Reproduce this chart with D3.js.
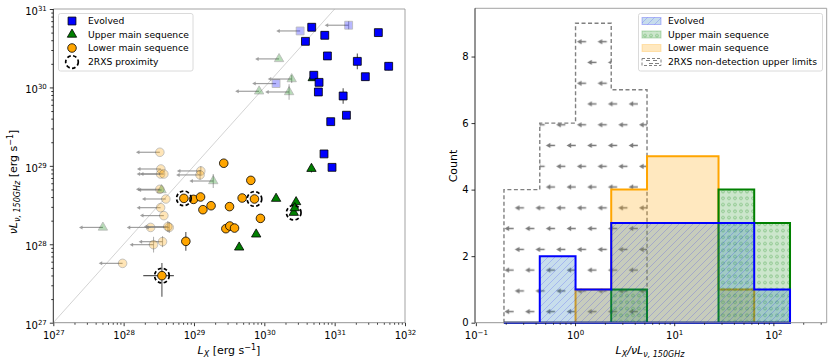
<!DOCTYPE html>
<html>
<head>
<meta charset="utf-8">
<script src="https://cdn.jsdelivr.net/npm/d3@7"></script>
<style>
  body { margin: 0; background: #fff; }
  text { font-family: "DejaVu Sans", sans-serif; fill: #000; }
</style>
</head>
<body>
<svg id="chart" width="831" height="362"></svg>
<script>
// ---- detections (L_X, nu L_nu in erg/s) ----
const evolvedLx = [4.72e30, 3.84e30, 7.23e30, 7.89e30, 5.05e30, 6.0e30, 5.87e30, 4.18e31,
                   2.10e31, 5.86e31, 2.73e31, 1.32e31, 1.47e31, 8.79e30, 7.06e30, 9.18e30];
const evolvedLnu = [5.85e30, 3.87e30, 4.62e30, 2.52e30, 1.43e30, 1.16e30, 8.75e29, 5.0e30,
                    2.15e30, 1.86e30, 1.37e30, 7.78e29, 4.42e29, 3.66e29, 1.42e29, 9.57e28];
const evolvedErr = [0, 0, 0, 0, 0, 0, 0, 0, 0.10, 0.05, 0, 0.10, 0, 0, 0, 0];

const upperLx = [4.88e30, 4.68e30, 1.47e30, 2.83e30, 2.62e30, 7.66e29, 4.39e29, 2.71e30];
const upperLnu = [1.32e30, 9.2e28, 3.82e28, 3.46e28, 2.53e28, 1.34e28, 9.14e27, 2.90e28];
const upperErr = [0.03, 0.05, 0, 0, 0, 0, 0, 0];

const lowerLx = [2.65e29, 6.43e29, 7.18e28, 9.84e28, 1.24e29, 1.34e29, 1.75e29, 4.84e29,
                 7.24e29, 3.2e29, 8.81e29, 2.84e29, 3.23e29, 3.77e29, 7.66e28, 3.5e28];
const lowerLnu = [1.08e29, 6.53e28, 3.85e28, 3.74e28, 4.01e28, 2.76e28, 3.10e28, 3.89e28,
                  3.78e28, 3.02e28, 2.14e28, 1.58e28, 1.71e28, 1.61e28, 1.09e28, 3.98e27];
const lowerErrLo = [0.03, 0, 0, 0, 0, 0, 0, 0, 0, 0, 0, 0, 0, 0, 0.12, 0.27];
const lowerErrHi = [0.03, 0, 0, 0, 0, 0, 0, 0, 0, 0, 0, 0, 0, 0, 0.12, 0.16];
const lowerXErrLo = [0, 0, 0, 0, 0, 0, 0, 0, 0, 0, 0, 0, 0, 0, 0, 0.265];
const lowerXErrHi = [0, 0, 0, 0, 0, 0, 0, 0, 0, 0, 0, 0, 0, 0, 0, 0.17];

// indices of sources close to a 2RXS source
const upperNear = [4];
const lowerNear = [2, 8, 15];

// ---- 2RXS non-detections (L_X is an upper limit) ----
const ulEvolvedLx = [3.23e30, 1.58e31, 1.47e30];
const ulEvolvedLnu = [5.25e30, 6.21e30, 1.12e30];
const ulEvolvedErr = [0, 0.05, 0];
const ulUpperLx = [1.62e30, 2.45e30, 8.43e29, 2.25e30, 1.88e29, 3.46e28, 5.07e27];
const ulUpperLnu = [2.31e30, 1.28e30, 8.93e29, 8.75e29, 6.41e28, 4.92e28, 1.64e28];
const ulUpperErr = [0, 0.05, 0, 0.10, 0.09, 0, 0];
const ulLowerLx = [3.27e28, 3.38e28, 3.35e28, 3.73e28, 1.25e29, 1.22e29, 3.27e28, 3.98e28,
                   3.35e28, 3.73e28, 2.42e28, 4.45e28, 4.25e28, 3.57e28, 2.66e28, 9.66e27];
const ulLowerLnu = [1.49e29, 9.12e28, 7.87e28, 7.87e28, 8.61e28, 7.66e28, 5.02e28, 3.78e28,
                    2.93e28, 2.32e28, 1.64e28, 1.64e28, 1.68e28, 1.08e28, 9.89e27, 5.71e27];
const ulLowerErr = [0, 0, 0, 0, 0.06, 0.06, 0, 0, 0, 0, 0, 0.07, 0.07, 0.07, 0.10, 0];

// ---- histogram bins of L_X / nu L_nu ----
const binEdges = [0.192, 0.441, 1.012, 2.317, 5.32, 12.19, 27.99, 64.1, 147.2];

const legendLeft = ['Evolved', 'Upper main sequence', 'Lower main sequence', '2RXS proximity'];
const legendRight = ['Evolved', 'Upper main sequence', 'Lower main sequence', '2RXS non-detection upper limits'];

const ulArrowDex = 0.34;
const C0 = '#1f77b4';

const svg = d3.select('#chart');
const defs = svg.append('defs');

function expLabel(sel, exp) {
    sel.text(null);
    sel.append('tspan').text('10');
    sel.append('tspan')
        .attr('dy', '-0.6em')
        .style('font-size', '7px')
        .text(exp < 0 ? '\u2212' + Math.abs(exp) : String(exp));
}

function minorTicks(lo, hi, domain) {
    const out = [];
    for (let e = lo; e < hi; e++) {
        for (let m = 2; m < 10; m++) {
            const v = m * Math.pow(10, e);
            if (v > domain[0] && v < domain[1]) out.push(v);
        }
    }
    return out;
}

function styleAxis(g) {
    g.select('.domain').remove();
    g.selectAll('.tick line').attr('stroke', '#000').attr('stroke-width', 0.8);
    g.selectAll('.tick text').style('font-size', '10px');
}

function spines(P, leftColor) {
    svg.append('line').attr('x1', P.left).attr('x2', P.right).attr('y1', P.top).attr('y2', P.top)
        .attr('stroke', '#999').attr('stroke-width', 0.9);
    svg.append('line').attr('x1', P.right).attr('x2', P.right).attr('y1', P.top).attr('y2', P.bottom)
        .attr('stroke', '#999').attr('stroke-width', 0.9);
    svg.append('line').attr('x1', P.left).attr('x2', P.right).attr('y1', P.bottom).attr('y2', P.bottom)
        .attr('stroke', '#888').attr('stroke-width', 0.9);
    svg.append('line').attr('x1', P.left).attr('x2', P.left).attr('y1', P.top).attr('y2', P.bottom)
        .attr('stroke', leftColor).attr('stroke-width', 0.9);
}

// =================== left panel: scatter ===================
const PL = { left: 53.3, right: 405, top: 9, bottom: 322.7 };
const xL = d3.scaleLog().domain([1e27, 1e32]).range([PL.left, PL.right]);
const yL = d3.scaleLog().domain([1e27, 1e31]).range([PL.bottom, PL.top]);

defs.append('clipPath').attr('id', 'clipL')
    .append('rect')
    .attr('x', PL.left).attr('y', PL.top)
    .attr('width', PL.right - PL.left).attr('height', PL.bottom - PL.top);

const gL = svg.append('g').attr('clip-path', 'url(#clipL)');

// one-to-one line
gL.append('path')
    .attr('d', d3.line().x((d) => xL(d)).y((d) => yL(d))([1e27, 1e31]))
    .attr('stroke', '#c8c8c8')
    .attr('stroke-width', 0.8)
    .attr('fill', 'none');

const symSquare = d3.symbol(d3.symbolSquare, 62);
const symTriangle = d3.symbol(d3.symbolTriangle, 38);
const symCircle = d3.symbol(d3.symbolCircle, 58);

function drawUpperLimits(lx, lnu, err, symbol, color) {
    lx.forEach((v, i) => {
        const x = xL(v);
        const y = yL(lnu[i]);
        const xEnd = xL(v / Math.pow(10, ulArrowDex));
        const g = gL.append('g');
        g.append('line')
            .attr('x1', x).attr('x2', xEnd + 3).attr('y1', y).attr('y2', y)
            .attr('stroke', '#808080').attr('stroke-width', 1.2).attr('opacity', 0.75);
        g.append('path')
            .attr('d', `M${xEnd},${y}L${xEnd + 3.5},${y - 2}L${xEnd + 3.5},${y + 2}Z`)
            .attr('fill', '#808080').attr('opacity', 0.75);
        if (err[i] > 0) {
            g.append('line')
                .attr('x1', x).attr('x2', x)
                .attr('y1', yL(lnu[i] * Math.pow(10, err[i])))
                .attr('y2', yL(lnu[i] / Math.pow(10, err[i])))
                .attr('stroke', '#808080').attr('stroke-width', 1.1).attr('opacity', 0.6);
        }
        g.append('path')
            .attr('d', symbol)
            .attr('transform', `translate(${x},${y})`)
            .attr('fill', color)
            .attr('stroke', '#000')
            .attr('stroke-width', 0.8)
            .attr('opacity', 0.28);
    });
}

drawUpperLimits(ulLowerLx, ulLowerLnu, ulLowerErr, symCircle, 'orange');
drawUpperLimits(ulUpperLx, ulUpperLnu, ulUpperErr, symTriangle, 'green');
drawUpperLimits(ulEvolvedLx, ulEvolvedLnu, ulEvolvedErr, symSquare, 'blue');

function drawDetections(lx, lnu, errLo, errHi, xLo, xHi, symbol, color) {
    lx.forEach((v, i) => {
        const x = xL(v);
        const y = yL(lnu[i]);
        if (errLo[i] > 0) {
            gL.append('line')
                .attr('x1', x).attr('x2', x)
                .attr('y1', yL(lnu[i] * Math.pow(10, errHi[i])))
                .attr('y2', yL(lnu[i] / Math.pow(10, errLo[i])))
                .attr('stroke', '#555').attr('stroke-width', 1.1);
        }
        if (xLo && xLo[i] > 0) {
            gL.append('line')
                .attr('x1', xL(v / Math.pow(10, xLo[i])))
                .attr('x2', xL(v * Math.pow(10, xHi[i])))
                .attr('y1', y).attr('y2', y)
                .attr('stroke', '#555').attr('stroke-width', 1.1);
        }
    });
    lx.forEach((v, i) => {
        gL.append('path')
            .attr('d', symbol)
            .attr('transform', `translate(${xL(v)},${yL(lnu[i])})`)
            .attr('fill', color)
            .attr('stroke', '#000')
            .attr('stroke-width', 0.8);
    });
}

drawDetections(lowerLx, lowerLnu, lowerErrLo, lowerErrHi, lowerXErrLo, lowerXErrHi, symCircle, 'orange');
drawDetections(upperLx, upperLnu, upperErr, upperErr, null, null, symTriangle, 'green');
drawDetections(evolvedLx, evolvedLnu, evolvedErr, evolvedErr, null, null, symSquare, 'blue');

// 2RXS proximity rings
function ring(g, x, y, r) {
    g.append('circle')
        .attr('cx', x).attr('cy', y).attr('r', r)
        .attr('fill', 'none')
        .attr('stroke', '#000')
        .attr('stroke-width', 1.7)
        .attr('stroke-dasharray', '3.6 2.4');
}
lowerNear.forEach((i) => ring(gL, xL(lowerLx[i]), yL(lowerLnu[i]), 7.3));
upperNear.forEach((i) => ring(gL, xL(upperLx[i]), yL(upperLnu[i]), 7.3));

// axes
const xAxisL = svg.append('g').attr('transform', `translate(0,${PL.bottom})`)
    .call(d3.axisBottom(xL).tickValues([1e27, 1e28, 1e29, 1e30, 1e31, 1e32]).tickSize(3.5).tickPadding(6));
styleAxis(xAxisL);
xAxisL.selectAll('.tick text').each(function (d) { expLabel(d3.select(this), Math.round(Math.log10(d))); });
const xMinorL = svg.append('g').attr('transform', `translate(0,${PL.bottom})`)
    .call(d3.axisBottom(xL).tickValues(minorTicks(27, 32, xL.domain())).tickSize(2).tickFormat(''));
styleAxis(xMinorL);

const yAxisL = svg.append('g').attr('transform', `translate(${PL.left},0)`)
    .call(d3.axisLeft(yL).tickValues([1e27, 1e28, 1e29, 1e30, 1e31]).tickSize(3.5).tickPadding(3));
styleAxis(yAxisL);
yAxisL.selectAll('.tick text').attr('dy', '0.55em')
    .each(function (d) { expLabel(d3.select(this), Math.round(Math.log10(d))); });
const yMinorL = svg.append('g').attr('transform', `translate(${PL.left},0)`)
    .call(d3.axisLeft(yL).tickValues(minorTicks(27, 31, yL.domain())).tickSize(2).tickFormat(''));
styleAxis(yMinorL);

spines(PL, '#111');

// axis labels
const xlabL = svg.append('text').attr('x', 229).attr('y', 354).attr('text-anchor', 'middle').style('font-size', '11px');
xlabL.append('tspan').style('font-style', 'italic').text('L');
xlabL.append('tspan').attr('dy', 2.5).style('font-size', '8px').style('font-style', 'italic').text('X');
xlabL.append('tspan').attr('dy', -2.5).text(' [erg s');
xlabL.append('tspan').attr('dy', -4.5).style('font-size', '8px').text('\u22121');
xlabL.append('tspan').attr('dy', 4.5).text(']');

const ylabL = svg.append('text')
    .attr('transform', 'translate(17,182) rotate(-90)')
    .attr('text-anchor', 'middle')
    .style('font-size', '11px');
ylabL.append('tspan').style('font-style', 'italic').text('\u03BDL');
ylabL.append('tspan').attr('dy', 2.5).style('font-size', '8px').style('font-style', 'italic').text('\u03BD, 150GHz');
ylabL.append('tspan').attr('dy', -2.5).text(' [erg s');
ylabL.append('tspan').attr('dy', -4.5).style('font-size', '8px').text('\u22121');
ylabL.append('tspan').attr('dy', 4.5).text(']');

// legend (left)
const legL = svg.append('g');
legL.append('rect')
    .attr('x', 58.5).attr('y', 13.5).attr('width', 134.5).attr('height', 57.5).attr('rx', 2)
    .attr('fill', '#fff').attr('fill-opacity', 0.8).attr('stroke', '#d0d0d0').attr('stroke-width', 0.8);
const rowsY = [21, 34.5, 48, 62];
const legSyms = [[symSquare, 'blue'], [symTriangle, 'green'], [symCircle, 'orange']];
legSyms.forEach(([s, c], i) => {
    legL.append('path').attr('d', s).attr('transform', `translate(72,${rowsY[i]})`)
        .attr('fill', c).attr('stroke', '#000').attr('stroke-width', 0.8);
});
ring(legL, 72, rowsY[3], 6.3);
legendLeft.forEach((t, i) => {
    legL.append('text').attr('x', 88).attr('y', rowsY[i]).attr('dy', '0.35em')
        .style('font-size', '9.2px').text(t);
});

// =================== right panel: histogram ===================
const PR = { left: 475, right: 826.7, top: 8.3, bottom: 322.7 };
const xR = d3.scaleLog().domain([0.098, 345]).range([PR.left, PR.right]);
const yR = d3.scaleLinear().domain([0, 9.45]).range([PR.bottom, PR.top]);

// hatch patterns
const pSlash = defs.append('pattern').attr('id', 'hSlash')
    .attr('patternUnits', 'userSpaceOnUse').attr('width', 7).attr('height', 7);
pSlash.append('path').attr('d', 'M-1,1L1,-1M0,7L7,0M6,8L8,6')
    .attr('stroke', 'blue').attr('stroke-opacity', 0.22).attr('stroke-width', 0.8);

const pDots = defs.append('pattern').attr('id', 'hDots')
    .attr('patternUnits', 'userSpaceOnUse').attr('width', 6).attr('height', 6.5);
pDots.append('circle').attr('cx', 3).attr('cy', 3.2).attr('r', 1.4)
    .attr('fill', 'none').attr('stroke', 'green').attr('stroke-opacity', 0.4).attr('stroke-width', 0.7);

const pArrows = defs.append('pattern').attr('id', 'hArrows')
    .attr('patternUnits', 'userSpaceOnUse')
    .attr('x', 17).attr('y', 31.3).attr('width', 20.7).attr('height', 41.54);
[[1, 10.4], [11.35, 31.1]].forEach(([hx, hy]) => {
    pArrows.append('line').attr('x1', hx + 3).attr('x2', hx + 9.2).attr('y1', hy).attr('y2', hy)
        .attr('stroke', '#7a7a7a').attr('stroke-width', 1.5);
    pArrows.append('path').attr('d', `M${hx},${hy}L${hx + 4.6},${hy - 2.6}L${hx + 4.6},${hy + 2.6}Z`)
        .attr('fill', '#7a7a7a');
});

const binner = d3.bin().domain([binEdges[0], binEdges[binEdges.length - 1]]).thresholds(binEdges.slice(1, -1));
const ratios = (lx, lnu) => lx.map((v, i) => v / lnu[i]);
const counts = (vals) => binner(vals).map((b) => b.length);

const evolvedCounts = counts(ratios(evolvedLx, evolvedLnu));
const upperCounts = counts(ratios(upperLx, upperLnu));
const lowerCounts = counts(ratios(lowerLx, lowerLnu));
const ulCounts = counts([].concat(
    ratios(ulEvolvedLx, ulEvolvedLnu),
    ratios(ulUpperLx, ulUpperLnu),
    ratios(ulLowerLx, ulLowerLnu),
));

function stepPath(c) {
    const pts = [[binEdges[0], 0]];
    c.forEach((n, i) => { pts.push([binEdges[i], n], [binEdges[i + 1], n]); });
    pts.push([binEdges[binEdges.length - 1], 0]);
    return d3.line().x((d) => xR(d[0])).y((d) => yR(d[1]))(pts) + 'Z';
}

const gR = svg.append('g');

// upper limits
gR.append('path').attr('d', stepPath(ulCounts)).attr('fill', 'url(#hArrows)')
    .attr('stroke', '#808080').attr('stroke-width', 1.4).attr('stroke-dasharray', '4 2.5');

function histLayer(c, fill, fillOp, hatch, edge) {
    const d = stepPath(c);
    gR.append('path').attr('d', d).attr('fill', fill).attr('fill-opacity', fillOp);
    if (hatch) gR.append('path').attr('d', d).attr('fill', hatch);
    gR.append('path').attr('d', d).attr('fill', 'none').attr('stroke', edge).attr('stroke-width', 2);
}
histLayer(lowerCounts, 'orange', 0.25, null, 'orange');
histLayer(upperCounts, 'green', 0.2, 'url(#hDots)', 'green');
histLayer(evolvedCounts, C0, 0.25, 'url(#hSlash)', 'blue');

// axes
const xAxisR = svg.append('g').attr('transform', `translate(0,${PR.bottom})`)
    .call(d3.axisBottom(xR).tickValues([0.1, 1, 10, 100]).tickSize(3.5).tickPadding(6));
styleAxis(xAxisR);
xAxisR.selectAll('.tick text').each(function (d) { expLabel(d3.select(this), Math.round(Math.log10(d))); });
const xMinorR = svg.append('g').attr('transform', `translate(0,${PR.bottom})`)
    .call(d3.axisBottom(xR).tickValues(minorTicks(-1, 3, xR.domain())).tickSize(2).tickFormat(''));
styleAxis(xMinorR);

const yAxisR = svg.append('g').attr('transform', `translate(${PR.left},0)`)
    .call(d3.axisLeft(yR).tickValues([0, 2, 4, 6, 8]).tickSize(3.5).tickPadding(3));
styleAxis(yAxisR);

spines(PR, '#111');

const xlabR = svg.append('text').attr('x', 650).attr('y', 354).attr('text-anchor', 'middle').style('font-size', '11px');
xlabR.append('tspan').style('font-style', 'italic').text('L');
xlabR.append('tspan').attr('dy', 2.5).style('font-size', '8px').style('font-style', 'italic').text('X');
xlabR.append('tspan').attr('dy', -2.5).style('font-style', 'italic').text('/\u03BDL');
xlabR.append('tspan').attr('dy', 2.5).style('font-size', '8px').style('font-style', 'italic').text('\u03BD, 150GHz');

svg.append('text')
    .attr('transform', 'translate(457,166) rotate(-90)')
    .attr('text-anchor', 'middle')
    .style('font-size', '11px')
    .text('Count');

// legend (right)
const legR = svg.append('g');
legR.append('rect')
    .attr('x', 638.5).attr('y', 13.5).attr('width', 184).attr('height', 57.5).attr('rx', 2)
    .attr('fill', '#fff').attr('fill-opacity', 0.8).attr('stroke', '#d0d0d0').attr('stroke-width', 0.8);
const patchX = 642;
const patchW = 19;
const patchH = 7;
const patches = [
    [C0, 0.25, 'url(#hSlash)', 'blue'],
    ['green', 0.2, 'url(#hDots)', 'green'],
    ['orange', 0.25, null, 'orange'],
];
patches.forEach(([f, op, h, e], i) => {
    const y = rowsY[i] - patchH / 2;
    legR.append('rect').attr('x', patchX).attr('y', y).attr('width', patchW).attr('height', patchH)
        .attr('fill', f).attr('fill-opacity', op).attr('stroke', e).attr('stroke-opacity', 0.25);
    if (h) {
        legR.append('rect').attr('x', patchX).attr('y', y).attr('width', patchW).attr('height', patchH)
            .attr('fill', h);
    }
});
const ulY = rowsY[3] - patchH / 2;
legR.append('rect').attr('x', patchX).attr('y', ulY).attr('width', patchW).attr('height', patchH)
    .attr('fill', 'none').attr('stroke', '#808080').attr('stroke-width', 1).attr('stroke-dasharray', '3 2');
[[patchX + 4, rowsY[3] - 1.5], [patchX + 11, rowsY[3] - 1.5], [patchX + 7, rowsY[3] + 1.5], [patchX + 13, rowsY[3] + 1.5]]
    .forEach(([x, y]) => {
        legR.append('line').attr('x1', x).attr('x2', x + 4).attr('y1', y).attr('y2', y)
            .attr('stroke', '#808080').attr('stroke-width', 1);
    });
legendRight.forEach((t, i) => {
    legR.append('text').attr('x', 668).attr('y', rowsY[i]).attr('dy', '0.35em')
        .style('font-size', '9.2px').text(t);
});
</script>
</body>
</html>
